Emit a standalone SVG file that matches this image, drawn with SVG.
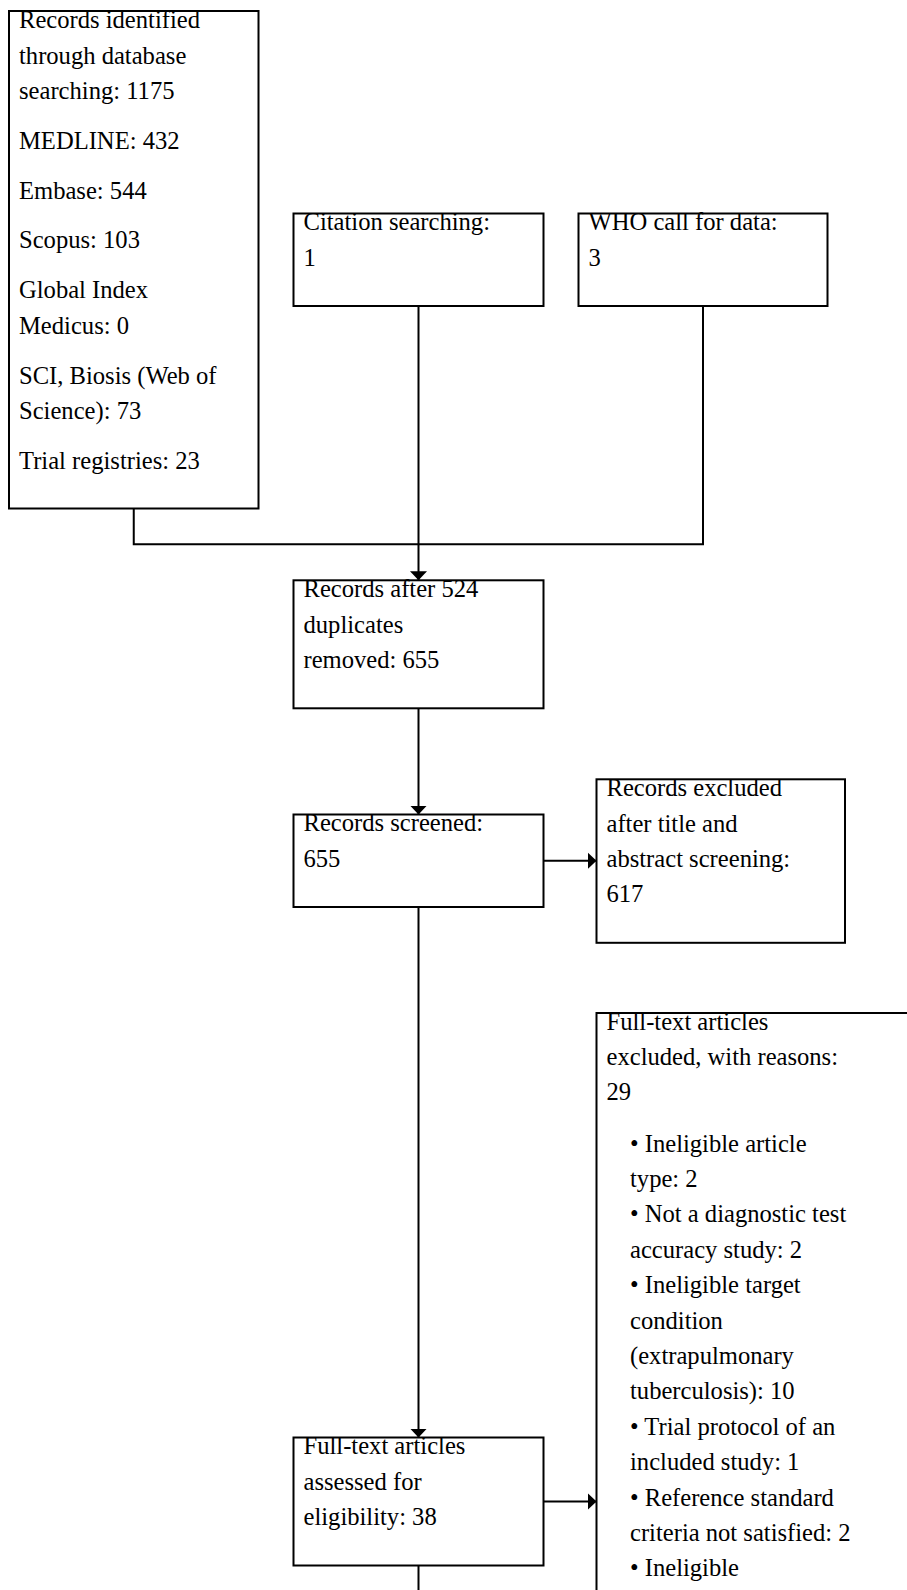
<svg xmlns="http://www.w3.org/2000/svg" width="907" height="1590" viewBox="0 0 907 1590">
<style>
.box{fill:#fff;stroke:#000;stroke-width:2}
.edge{fill:none;stroke:#000;stroke-width:2}
text{font-family:"Liberation Serif","Times New Roman",serif;font-size:24.6px;fill:#000}
</style>
<defs>
<marker id="arr" markerUnits="userSpaceOnUse" markerWidth="10" markerHeight="18" refX="9" refY="8.5" orient="auto">
<path d="M0,0 L9,8.5 L0,17 z" fill="#000"/>
</marker>
</defs>
<rect width="907" height="1590" fill="#fff"/>
<g id="connectors">
<path class="edge" d="M133.75,508.5 V544.3 H703 V306"/>
<path class="edge" d="M418.5,306 V580.3" marker-end="url(#arr)"/>
<path class="edge" d="M418.5,708.3 V814.5" marker-end="url(#arr)"/>
<path class="edge" d="M543.5,860.8 H596.5" marker-end="url(#arr)"/>
<path class="edge" d="M418.5,907 V1437.5" marker-end="url(#arr)"/>
<path class="edge" d="M543.5,1501.5 H596.5" marker-end="url(#arr)"/>
<path class="edge" d="M418.5,1565.5 V1600"/>
</g>
<g id="n-database">
<rect class="box" x="9" y="11" width="249.5" height="497.5"/>
<text x="19" y="28">Records identified</text>
<text x="19" y="63.5">through database</text>
<text x="19" y="99">searching: 1175</text>
<text x="19" y="148.8">MEDLINE: 432</text>
<text x="19" y="198.6">Embase: 544</text>
<text x="19" y="248.4">Scopus: 103</text>
<text x="19" y="298.2">Global Index</text>
<text x="19" y="333.7">Medicus: 0</text>
<text x="19" y="383.5">SCI, Biosis (Web of</text>
<text x="19" y="419">Science): 73</text>
<text x="19" y="468.8">Trial registries: 23</text>
</g>
<g id="n-citation">
<rect class="box" x="293.5" y="213.5" width="250" height="92.5"/>
<text x="303.5" y="230.3">Citation searching:</text>
<text x="303.5" y="265.7">1</text>
</g>
<g id="n-who">
<rect class="box" x="578.5" y="213.5" width="249" height="92.5"/>
<text x="588.5" y="230.3">WHO call for data:</text>
<text x="588.5" y="265.7">3</text>
</g>
<g id="n-dedup">
<rect class="box" x="293.5" y="580.3" width="250" height="128"/>
<text x="303.5" y="597.1">Records after 524</text>
<text x="303.5" y="632.5">duplicates</text>
<text x="303.5" y="667.9">removed: 655</text>
</g>
<g id="n-screened">
<rect class="box" x="293.5" y="814.5" width="250" height="92.5"/>
<text x="303.5" y="831.3">Records screened:</text>
<text x="303.5" y="866.7">655</text>
</g>
<g id="n-excluded">
<rect class="box" x="596.5" y="779.3" width="248.5" height="163.5"/>
<text x="606.5" y="796.1">Records excluded</text>
<text x="606.5" y="831.5">after title and</text>
<text x="606.5" y="866.9">abstract screening:</text>
<text x="606.5" y="902.3">617</text>
</g>
<g id="n-fulltext-excluded">
<rect class="box" x="596.5" y="1013" width="340" height="700"/>
<text x="606.5" y="1029.5">Full-text articles</text>
<text x="606.5" y="1064.9">excluded, with reasons:</text>
<text x="606.5" y="1100.3">29</text>
<text x="630" y="1151.5">• Ineligible article</text>
<text x="630" y="1186.9">type: 2</text>
<text x="630" y="1222.3">• Not a diagnostic test</text>
<text x="630" y="1257.7">accuracy study: 2</text>
<text x="630" y="1293.1">• Ineligible target</text>
<text x="630" y="1328.5">condition</text>
<text x="630" y="1363.9">(extrapulmonary</text>
<text x="630" y="1399.3">tuberculosis): 10</text>
<text x="630" y="1434.7">• Trial protocol of an</text>
<text x="630" y="1470.1">included study: 1</text>
<text x="630" y="1505.5">• Reference standard</text>
<text x="630" y="1540.9">criteria not satisfied: 2</text>
<text x="630" y="1576.3">• Ineligible</text>
</g>
<g id="n-assessed">
<rect class="box" x="293.5" y="1437.5" width="250" height="128"/>
<text x="303.5" y="1454.3">Full-text articles</text>
<text x="303.5" y="1489.7">assessed for</text>
<text x="303.5" y="1525.1">eligibility: 38</text>
</g>
</svg>
